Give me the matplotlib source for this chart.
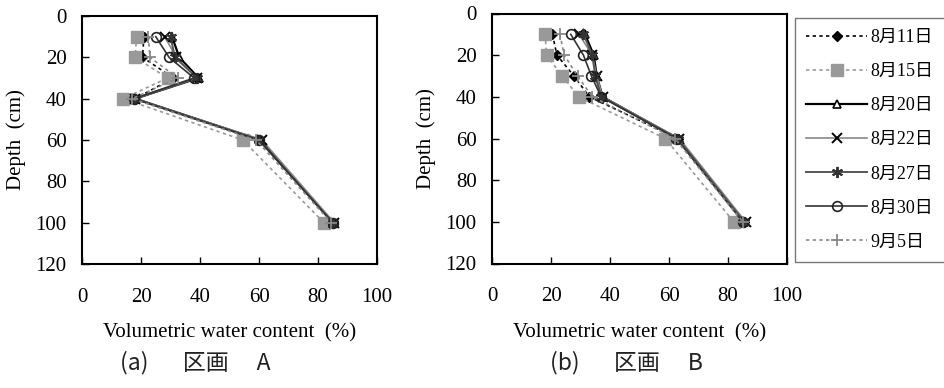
import matplotlib
matplotlib.use("Agg")
import matplotlib.pyplot as plt
from matplotlib.lines import Line2D

plt.rcParams['font.family'] = ['Liberation Serif', 'Noto Sans CJK JP']

depths = [10, 20, 30, 40, 60, 100]
dates = ["8月11日", "8月15日", "8月20日", "8月22日", "8月27日", "8月30日", "9月5日"]

# Section A
a_0811 = [21, 20.5, 31, 18, 60, 85]
a_0815 = [18.5, 18, 29, 14, 54.5, 82]
a_0820 = [30.5, 33, 39.5, 18, 60.5, 85]
a_0822 = [28, 32, 39, 18, 61, 85.5]
a_0827 = [30, 31.5, 39, 18, 60, 85]
a_0830 = [25, 29.5, 38, 17.5, 60, 85]
a_0905 = [22.5, 23, 32.5, 17, 59, 84.5]

# Section B
b_0811 = [20.5, 22, 27.8, 33, 63, 85.5]
b_0815 = [18, 18.5, 23.8, 29.4, 58.7, 82]
b_0820 = [31.5, 34.5, 35.5, 37.5, 63, 85.5]
b_0822 = [29.5, 34, 35.5, 37.5, 63.5, 86]
b_0827 = [31, 34, 35, 37, 63, 85.5]
b_0830 = [26.7, 31, 33.7, 37, 62.5, 85]
b_0905 = [23, 24.5, 29, 34, 62, 85]

xticks = [0, 20, 40, 60, 80, 100]
yticks = [0, 20, 40, 60, 80, 100, 120]

styles = [
    dict(color='black', ls=(0, (2, 2)), lw=1.2, marker='D', ms=5, mfc='black', mec='black'),
    dict(color='#999999', ls=(0, (2, 2)), lw=1.2, marker='s', ms=8, mfc='#999999', mec='#999999'),
    dict(color='black', ls='-', lw=1.6, marker='^', ms=6, mfc='white', mec='black', mew=1.2),
    dict(color='#888888', ls='-', lw=1.2, marker='x', ms=7, mfc='black', mec='black', mew=1.4),
    dict(color='#555555', ls='-', lw=1.4, marker=(6, 2, 0), ms=8, mfc='#333333', mec='#333333', mew=1.4),
    dict(color='#333333', ls='-', lw=1.2, marker='o', ms=7, mfc='none', mec='#222222', mew=1.2),
    dict(color='#888888', ls=(0, (2, 2)), lw=1.2, marker='+', ms=9, mfc='#888888', mec='#888888', mew=1.3),
]

fig = plt.figure(figsize=(9.44, 3.88), dpi=100)
axA = fig.add_axes([82/944, 1-264/388, 295/944, 248/388])
axB = fig.add_axes([492/944, 1-263.5/388, 295/944, 250/388])

seriesA = [a_0811, a_0815, a_0820, a_0822, a_0827, a_0830, a_0905]
seriesB = [b_0811, b_0815, b_0820, b_0822, b_0827, b_0830, b_0905]

for ax, series in [(axA, seriesA), (axB, seriesB)]:
    for vals, st in zip(series, styles):
        ax.plot(vals, depths, **st)
    ax.set_xlim(0, 100)
    ax.set_ylim(120, 0)
    ax.set_xticks(xticks)
    ax.set_yticks(yticks)
    ax.tick_params(direction='in', length=5, labelsize=15, width=1)
    ax.tick_params(axis='x', pad=17)
    ax.tick_params(axis='y', pad=11)
    for s in ax.spines.values():
        s.set_linewidth(1.5)
    ax.set_xlabel("Volumetric water content  (%)", fontsize=15, labelpad=12)
    ax.set_ylabel("Depth  (cm)", fontsize=15, labelpad=7)

capkw = dict(ha='left', va='center', fontsize=16.5, family=['Noto Sans CJK JP'], color='#222222')
fig.text(120/944, 1-363/388, "(a)\u3000\u2002区画\u3000 A", **capkw)
fig.text(550/944, 1-363/388, "(b)\u3000\u2002区画\u3000 B", **capkw)

handles = [Line2D([], [], **st) for st in styles]
leg = fig.legend(handles, dates, loc='upper left', bbox_to_anchor=(795/944, 1-18/388),
                 frameon=True, fancybox=False, edgecolor='#555555', fontsize=13,
                 handlelength=3.4, labelspacing=0.95, borderpad=0.6, handletextpad=0.2,
                 borderaxespad=0)
leg.get_frame().set_linewidth(1.0)

fig.savefig("out.png", dpi=100)
